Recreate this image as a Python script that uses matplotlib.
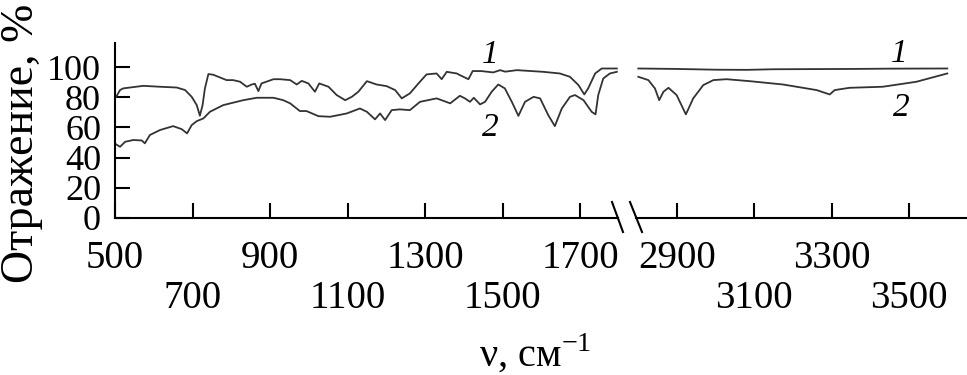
import matplotlib
matplotlib.use("Agg")
import matplotlib.pyplot as plt
from matplotlib.ticker import FixedLocator, FixedFormatter

# ─────────────────────────────────────────────
# DATA
# curve 1 / curve 2, left part 500-1800, right part 2800-3600 cm^-1
# ─────────────────────────────────────────────
nu1_left = [503, 513, 521, 539, 573, 616, 659, 681, 698, 711,
            719, 726, 732, 741, 753, 788, 805, 823, 840, 853,
            861, 870, 878, 909, 926, 952, 969, 982, 999, 1016,
            1027, 1051, 1072, 1094, 1111, 1128, 1150, 1175, 1201, 1223,
            1240, 1261, 1283, 1304, 1330, 1343, 1356, 1382, 1390, 1412,
            1423, 1445, 1476, 1494, 1507, 1537, 1605, 1648, 1674, 1696,
            1711, 1721, 1739, 1756, 1795]
refl1_left = [80.3, 84.8, 85.9, 86.5, 87.6, 87, 86.5, 84.8, 80.3, 74.8,
              67.8, 74.8, 85.9, 95.4, 95, 91.4, 91.4, 90.3, 87, 88.5,
              89, 84.1, 89.2, 92, 92, 91.4, 88.5, 90.9, 89.2, 83.7,
              89.2, 87, 81.5, 78.1, 80.3, 83.7, 90.7, 88.5, 87.4, 84.8,
              79.3, 82.6, 89.2, 95.2, 95.8, 92, 96.9, 95.8, 94.7, 92,
              97.4, 97.4, 96.5, 98, 97, 98, 96.9, 95.8, 93.6, 88.1,
              81.9, 85.9, 95.8, 99.1, 99.1]

nu2_left = [503, 513, 526, 547, 569, 577, 590, 616, 650, 672,
            686, 698, 711, 728, 745, 779, 831, 866, 909, 934,
            952, 977, 994, 1025, 1055, 1098, 1132, 1150, 1171, 1184,
            1197, 1214, 1235, 1261, 1287, 1330, 1365, 1390, 1403, 1416,
            1426, 1442, 1455, 1472, 1489, 1506, 1524, 1541, 1558, 1580,
            1597, 1618, 1635, 1653, 1674, 1687, 1709, 1730, 1740, 1747,
            1760, 1777, 1795]
refl2_left = [48.8, 47.2, 50.5, 51.7, 51.4, 49.5, 55, 58.3, 60.9, 58.9,
              56.1, 61.6, 64.2, 66, 70.4, 74.8, 78.1, 79.7, 79.7, 78.1,
              76, 70.9, 70.9, 67.5, 67.1, 69.3, 72.6, 70.4, 65.4, 69.3,
              64.9, 71.5, 72, 71.5, 77, 79.3, 76, 81, 79.3, 77,
              79.7, 75.3, 77, 83.7, 88.5, 85.9, 77, 67.7, 77, 80.3,
              79.3, 68.2, 60.9, 72.6, 80.3, 81.5, 78.1, 70.4, 68.7, 81.5,
              92.5, 95.8, 96.9]

nu1_right = [2800, 2900, 3000, 3080, 3150, 3250, 3350, 3450, 3599]
refl1_right = [99.1, 98.8, 98.3, 98.2, 98.6, 98.7, 98.8, 99.0, 99.1]

nu2_right = [2800, 2826, 2843, 2854, 2865, 2878, 2899, 2923, 2942, 2968,
             2994, 3028, 3088, 3174, 3261, 3295, 3308, 3346, 3432, 3519,
             3599]
refl2_right = [93.6, 91.4, 85.9, 78.1, 83.7, 86.3, 81.5, 68.7, 79.3, 88.1,
               91.4, 92, 90.7, 88.5, 84.8, 81.9, 84.8, 86.3, 87, 90.3,
               95.8]

y_ticks = [0, 20, 40, 60, 80, 100]
left_upper_ticks = [500, 900, 1300, 1700]
left_lower_ticks = [700, 1100, 1500]
right_upper_ticks = [2900, 3300]
right_lower_ticks = [3100, 3500]

# ─────────────────────────────────────────────
# STYLE
# ─────────────────────────────────────────────
plt.rcParams["font.family"] = ["Liberation Serif", "DejaVu Serif"]
plt.rcParams["mathtext.fontset"] = "custom"
plt.rcParams["mathtext.rm"] = "Liberation Serif"

LINE = "#333333"
XTICK_FS = 28
YTICK_FS = 26
UPPER_PAD = 16
LOWER_PAD = UPPER_PAD + 29

fig = plt.figure(figsize=(9.67, 3.75), dpi=100)
W, H = 967, 375
ax_l = fig.add_axes([115 / W, 1 - 218 / H, 503 / W, 175 / H])
ax_r = fig.add_axes([636 / W, 1 - 218 / H, 331 / W, 175 / H])

ax_l.plot(nu1_left, refl1_left, color=LINE, lw=1.3)
ax_l.plot(nu2_left, refl2_left, color=LINE, lw=1.3)
ax_r.plot(nu1_right, refl1_right, color=LINE, lw=1.3)
ax_r.plot(nu2_right, refl2_right, color=LINE, lw=1.3)

ax_l.set_xlim(500, 1798)
ax_r.set_xlim(2794, 3650)
for ax in (ax_l, ax_r):
    ax.set_ylim(0, 116)
    ax.spines["top"].set_visible(False)
    ax.spines["right"].set_visible(False)
    ax.spines["bottom"].set_linewidth(1.5)
    ax.tick_params(axis="x", which="both", direction="in", length=10.5,
                   width=1.5, labelsize=XTICK_FS)
    ax.tick_params(axis="x", which="major", pad=UPPER_PAD)
    ax.tick_params(axis="x", which="minor", pad=LOWER_PAD)

ax_l.spines["left"].set_linewidth(1.5)
ax_l.set_yticks(y_ticks)
ax_l.tick_params(axis="y", direction="in", length=10.5, width=1.5,
                 labelsize=YTICK_FS, pad=10)

ax_r.spines["left"].set_visible(False)
ax_r.set_yticks([])

# two rows of tick labels
for ax, up, low in ((ax_l, left_upper_ticks, left_lower_ticks),
                    (ax_r, right_upper_ticks, right_lower_ticks)):
    ax.xaxis.set_major_locator(FixedLocator(up))
    ax.xaxis.set_major_formatter(FixedFormatter([str(v) for v in up]))
    ax.xaxis.set_minor_locator(FixedLocator(low))
    ax.xaxis.set_minor_formatter(FixedFormatter([str(v) for v in low]))

# break marks on the axis
def break_mark(ax, xfrac, dx_left, dx_right):
    ax_w = ax.get_position().width * W
    ax_h = ax.get_position().height * H
    ax.plot([xfrac + dx_left / ax_w, xfrac + dx_right / ax_w],
            [16 / ax_h, -14 / ax_h], transform=ax.transAxes,
            color="black", lw=1.5, clip_on=False)

break_mark(ax_l, 1.0, -6, 5)
break_mark(ax_r, 0.0, -6, 6)

# curve labels
ax_l.text(1468, 108, "1", style="italic", fontsize=24, ha="center", va="center")
ax_l.text(1468, 60, "2", style="italic", fontsize=24, ha="center", va="center")
ax_r.text(3475, 109, "1", style="italic", fontsize=24, ha="center", va="center")
ax_r.text(3480, 73, "2", style="italic", fontsize=24, ha="center", va="center")

fig.text(22 / W, 1 - 143 / H, "Отражение, %", rotation=90, fontsize=33,
         ha="center", va="center")
fig.text(535 / W, 1 - 354 / H, "ν, см$^{-1}$", fontsize=29,
         ha="center", va="center")

fig.savefig("out.png", dpi=100)
